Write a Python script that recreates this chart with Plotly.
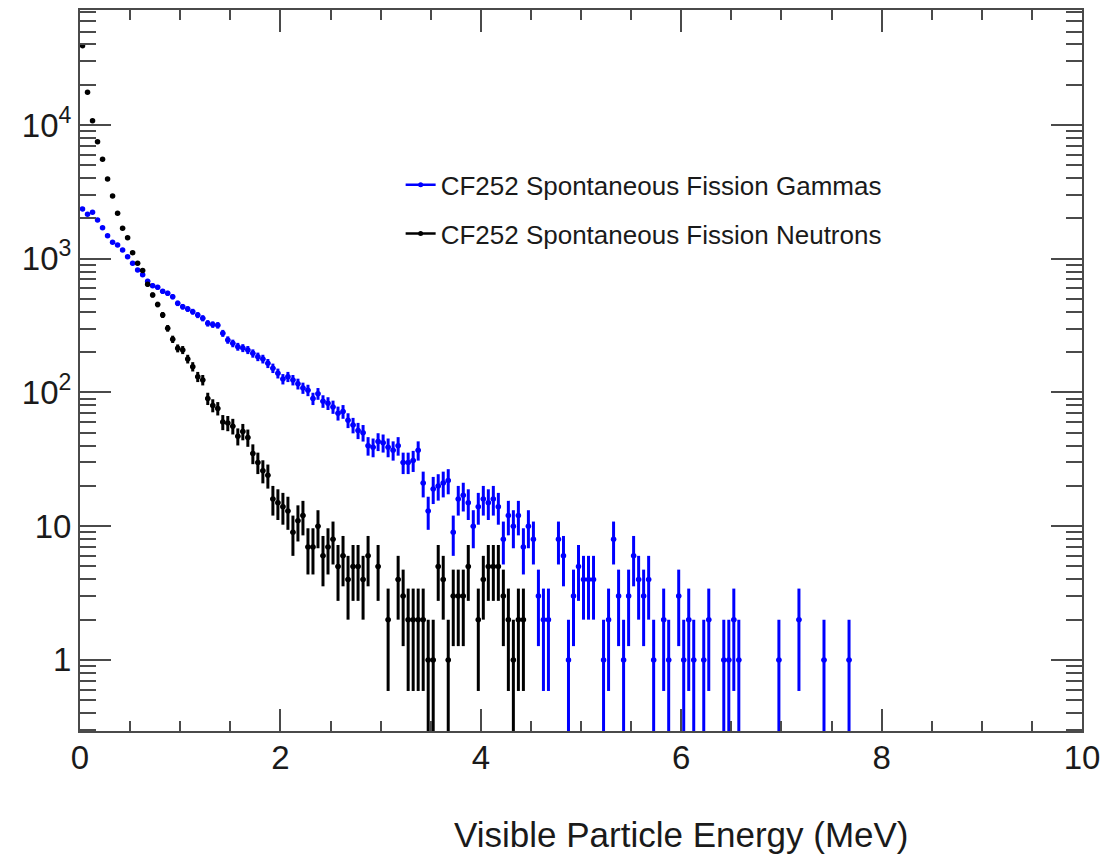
import math
import plotly.graph_objects as go

# ---- histogram definition ----
BIN_WIDTH = 0.05          # MeV
N_BINS = 200              # 0 .. 10 MeV

# counts per bin (bins beyond the listed ones are empty)
gamma_counts = [
    2355, 2150, 2225, 1950, 1707, 1487, 1327, 1267, 1162, 1036,
    925, 824, 760, 680, 629, 612, 570, 552, 520, 464,
    438, 421, 402, 379, 359, 329, 322, 318, 277, 247,
    233, 220, 215, 208, 196, 185, 178, 165, 152, 139,
    126, 131, 124, 116, 108, 104, 90, 98, 86, 83,
    78, 70, 72, 62, 57, 52, 50, 40, 39, 43,
    42, 39, 37, 40, 30, 30, 31, 37, 21, 13,
    19, 20, 21, 22, 9, 16, 17, 15, 10, 14,
    16, 15, 16, 14, 8, 12, 10, 12, 7, 10,
    8, 3, 2, 2, 0, 8, 6, 1, 3, 5,
    4, 4, 4, 0, 1, 2, 8, 3, 1, 3,
    6, 4, 3, 4, 1, 0, 2, 1, 0, 3,
    1, 2, 1, 0, 1, 2, 0, 0, 1, 1,
    2, 1, 0, 0, 0, 0, 0, 0, 0, 1,
    0, 0, 0, 2, 0, 0, 0, 0, 1, 0,
    0, 0, 0, 1,
]

neutron_counts = [
    39200, 17600, 10770, 7500, 5540, 3940, 2945, 2190, 1690, 1437,
    1110, 925, 815, 645, 536, 455, 380, 302, 250, 214,
    208, 178, 156, 131, 124, 90, 80, 76, 60, 59,
    56, 47, 51, 46, 35, 30, 26, 24, 16, 15,
    14, 13, 9, 11, 12, 7, 7, 10, 6, 7,
    8, 5, 6, 4, 5, 5, 4, 6, 0, 5,
    0, 2, 0, 4, 3, 2, 2, 2, 2, 1,
    1, 5, 4, 1, 3, 3, 3, 5, 0, 2,
    4, 5, 5, 5, 3, 2, 1, 2, 2,
]

series_names = ["CF252 Spontaneous Fission Gammas", "CF252 Spontaneous Fission Neutrons"]
series_colors = ["#0000ff", "#000000"]

y_tick_vals = [1, 10, 100, 1000, 10000]
y_tick_text = ["1", "10", "10<sup>2</sup>", "10<sup>3</sup>", "10<sup>4</sup>"]
x_title = "Visible Particle Energy (MeV)"

FONT = "Liberation Sans, Arial, Helvetica, sans-serif"
AXIS_COL = "#4a4a4a"
TEXT_COL = "#1a1a1a"

bin_centers = [BIN_WIDTH * (i + 0.5) for i in range(N_BINS)]


def points(counts):
    full = counts + [0] * (N_BINS - len(counts))
    xs, ys, es = [], [], []
    for x, c in zip(bin_centers, full):
        if c > 0:
            xs.append(x)
            ys.append(c)
            es.append(math.sqrt(c))
    return xs, ys, es


fig = go.Figure()

for counts, name, col in zip([gamma_counts, neutron_counts], series_names, series_colors):
    xs, ys, es = points(counts)
    fig.add_trace(go.Scatter(
        x=xs, y=ys, mode="markers", name=name, showlegend=False,
        marker=dict(color=col, size=5.5, symbol="circle"),
        error_y=dict(type="data", array=es, visible=True, color=col, thickness=3, width=0),
        error_x=dict(type="constant", value=BIN_WIDTH / 2, visible=True, color=col, thickness=2, width=0),
    ))

# legend entries (line + marker, ROOT "lep" style)
for i, (name, col) in enumerate(zip(series_names, series_colors)):
    fig.add_trace(go.Scatter(
        x=[None], y=[None], mode="lines+markers", name=name,
        legendgroup=f"g{i}",
        line=dict(color=col, width=2.5),
        marker=dict(color=col, size=5),
    ))

minor_y = []
for dec in range(-1, 5):
    for m in range(2, 10):
        minor_y.append(m * 10 ** dec)

fig.update_layout(
    width=1101, height=856,
    margin=dict(l=80, r=19, t=10, b=125, autoexpand=False),
    paper_bgcolor="white", plot_bgcolor="white",
    font=dict(family=FONT, color=TEXT_COL),
    xaxis=dict(
        range=[0, 10], tick0=0, dtick=2,
        ticks="inside", ticklen=22, tickwidth=2, tickcolor=AXIS_COL,
        showline=True, linecolor=AXIS_COL, linewidth=2, mirror="allticks",
        showgrid=False, zeroline=False,
        tickfont=dict(size=33, family=FONT, color=TEXT_COL),
        ticklabelstandoff=-4,
        minor=dict(dtick=0.5, tick0=0, ticks="inside", ticklen=10, tickwidth=2,
                   tickcolor=AXIS_COL, showgrid=False),
    ),
    yaxis=dict(
        type="log", range=[math.log10(0.294), 4.86],
        tickmode="array", tickvals=y_tick_vals, ticktext=y_tick_text,
        ticks="inside", ticklen=31, tickwidth=2, tickcolor=AXIS_COL,
        showline=True, linecolor=AXIS_COL, linewidth=2, mirror="allticks",
        showgrid=False, zeroline=False,
        tickfont=dict(size=33, family=FONT, color=TEXT_COL),
        minor=dict(tickmode="array", tickvals=minor_y, ticks="inside", ticklen=16,
                   tickwidth=2, tickcolor=AXIS_COL, showgrid=False),
    ),
    legend=dict(
        x=0.32, y=0.79, xanchor="left", yanchor="top",
        bgcolor="rgba(0,0,0,0)", borderwidth=0,
        font=dict(size=26, family=FONT, color=TEXT_COL),
        traceorder="grouped", tracegroupgap=12, itemwidth=30,
    ),
    annotations=[dict(
        text=x_title, xref="paper", yref="paper",
        x=0.829, y=-0.144, xanchor="right", yanchor="middle",
        showarrow=False, font=dict(size=35, family=FONT, color=TEXT_COL),
    )],
)

fig.write_html("out.html")
